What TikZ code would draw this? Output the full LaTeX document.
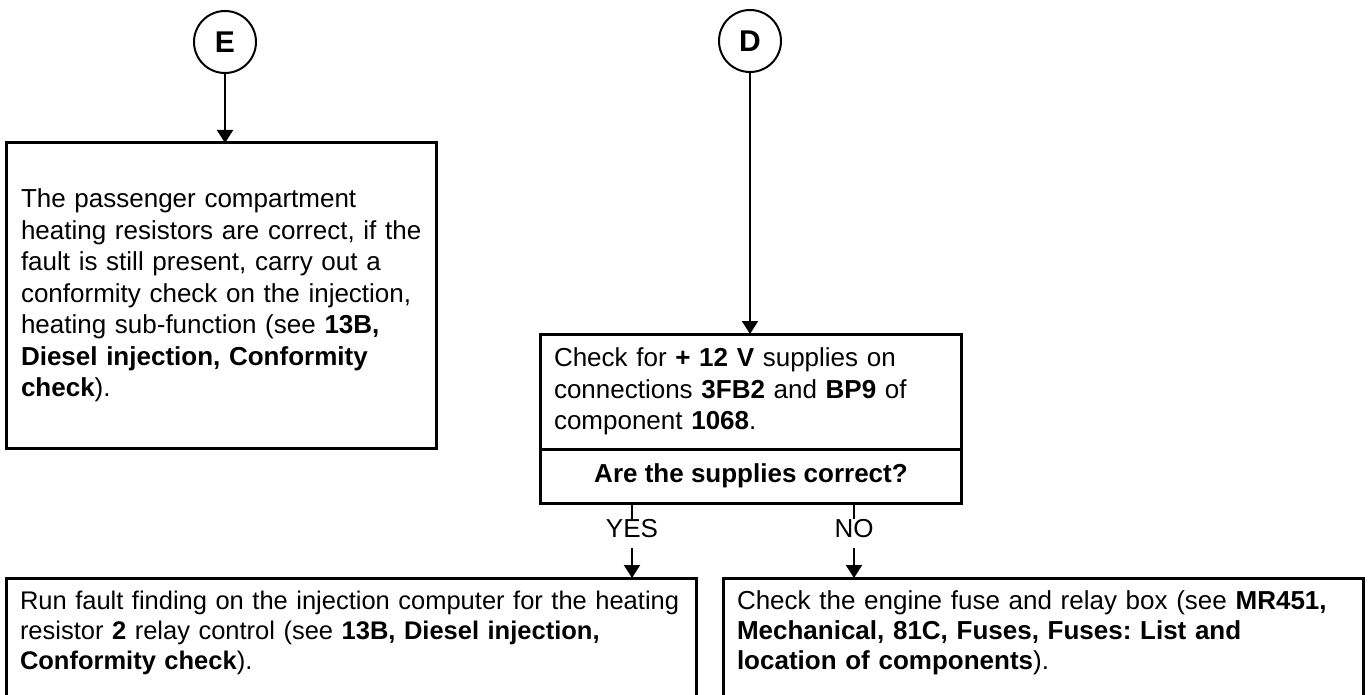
\documentclass[tikz,border=0pt]{standalone}
\usepackage{fontspec}
\setmainfont{Liberation Sans}
\usetikzlibrary{arrows.meta,positioning,calc}
\frenchspacing

\begin{document}
\begin{tikzpicture}[x=1pt, y=-1pt, >={Triangle[width=16pt,length=13pt]}, line width=2pt,
		font=\fontsize{26}{31.5}\selectfont,
		hub/.style={draw, circle, inner sep=0pt, minimum size=62pt, font=\fontsize{30}{30}\selectfont\bfseries},
		stepbox/.style={draw, rectangle, line width=3pt, outer sep=0pt, align=left, inner ysep=0pt,
			execute at begin node={\rightskip=0pt plus 1fil minus 100pt}},
		endbox/.style={stepbox, anchor=north west, inner ysep=13pt, text depth=200pt},
		ans/.style={inner sep=0pt}]
		\clip (0,0) rectangle (1371,695);
		% entry points
		\node[hub] (circE) at (225,42) {E};
		\node[hub] (circD) at (750,41) {D};
		% left branch
		\node[stepbox, anchor=north west, minimum width=430pt, minimum height=305pt, inner xsep=15pt, text width=400pt] (ebox) at (6,143) {The passenger compartment\\
			heating resistors are correct, if the\\
			fault is still present, carry out a\\
			conformity check on the injection,\\
			heating sub-function (see \textbf{13B,}\\
			\textbf{Diesel injection, Conformity}\\
			\textbf{check}).};
		% right branch: test and question
		\node[stepbox, anchor=north west, minimum width=421pt, minimum height=115pt, inner xsep=13.5pt, text width=394pt] (checkD) at (540.5,334) {Check for \textbf{+ 12 V} supplies on\\
			connections \textbf{3FB2} and \textbf{BP9} of\\
			component \textbf{1068}.};
		\node[stepbox, anchor=north, minimum width=421pt, minimum height=54pt, align=center, inner xsep=0pt] (askD) at (checkD.south) {\textbf{Are the supplies correct?}};
		% answers
		\node[endbox, minimum width=690pt, inner xsep=14pt, text width=662pt, font=\fontsize{25.5}{30}\selectfont] (runBox) at (6,578) {Run fault finding on the injection computer for the heating\\
			resistor \textbf{2} relay control (see \textbf{13B, Diesel injection,}\\
			\textbf{Conformity check}).};
		\node[endbox, minimum width=640pt, inner xsep=13.5pt, text width=613pt, font=\fontsize{26}{30}\selectfont] (fuseBox) at (723.5,578) {Check the engine fuse and relay box (see \textbf{MR451,}\\
			\textbf{Mechanical, 81C, Fuses, Fuses: List and}\\
			\textbf{location of components}).};
		% connectors
		\draw[->] (circE) -- (circE |- ebox.north);
		\draw[->] (circD) -- (circD |- checkD.north);
		\foreach \lab/\xx/\tgt in {YES/632/runBox, NO/854/fuseBox} {
			\node[ans] (lbl\lab) at (\xx,529) {\lab};
			\draw (askD.south -| lbl\lab) -- (lbl\lab.north);
			\draw[->, shorten <=9pt] (lbl\lab.south) -- (lbl\lab.south |- \tgt.north);
		}
	\end{tikzpicture}
\end{document}
